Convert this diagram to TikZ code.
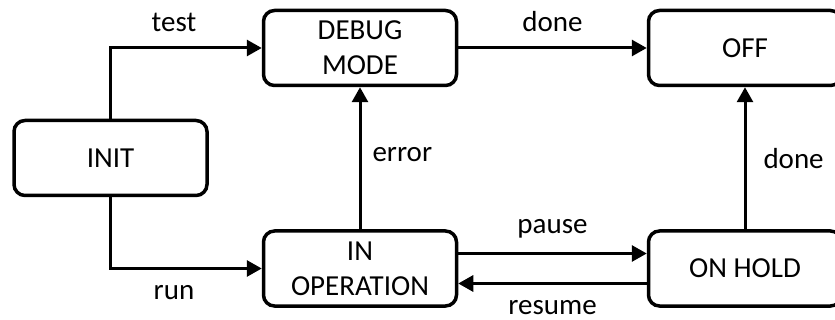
\documentclass[tikz,border=0pt]{standalone}
\usepackage{fontspec}
\setmainfont{Carlito}
\usetikzlibrary{positioning}
\usetikzlibrary{arrows.meta}
\tikzset{
    mystate/.style = {rectangle, rounded corners=11pt, line width=3.5pt, draw=black, align=center, fill=white, minimum width=193pt, minimum height=75pt, font=\fontsize{29}{35}\selectfont, text=black},
    edgen/.style = {-{Triangle[length=15pt,width=16pt]}, line width=3pt, black},
    mylabel/.style = {inner sep=0pt, font=\fontsize{29}{35}\selectfont, text=black}
}
\begin{document}
\begin{tikzpicture}[x=1pt, y=-1pt]
  \useasboundingbox (0,0) rectangle (835,320);
  % states
  \node[mystate] (init) at (110.5,158) {INIT};
  \node[mystate] (debug) at (360,48) {DEBUG\\MODE};
  \node[mystate] (inop) at (360,268.5) {IN\\OPERATION};
  \node[mystate] (off) at (745,48) {OFF};
  \node[mystate] (onhold) at (745,268.5) {ON HOLD};
  % transitions
  \draw[edgen] (init.north) |- node[mylabel, pos=0.71, above=15pt] {test} (debug.west);
  \draw[edgen] (init.south) |- node[mylabel, pos=0.71, below=15pt] {run} (inop.west);
  \draw[edgen] (inop.north) -- node[mylabel, pos=0.525, right=11pt] {error} (debug.south);
  \draw[edgen] (debug.east) -- node[mylabel, above=15pt] {done} (off.west);
  \draw[edgen] ([yshift=15pt]inop.east) -- node[mylabel, above=14pt] {pause} ([yshift=15pt]onhold.west);
  \draw[edgen] ([yshift=-15pt]onhold.west) -- node[mylabel, below=15pt] {resume} ([yshift=-15pt]inop.east);
  \draw[edgen] (onhold.north) -- node[mylabel, right=17pt] {done} (off.south);
\end{tikzpicture}
\end{document}
